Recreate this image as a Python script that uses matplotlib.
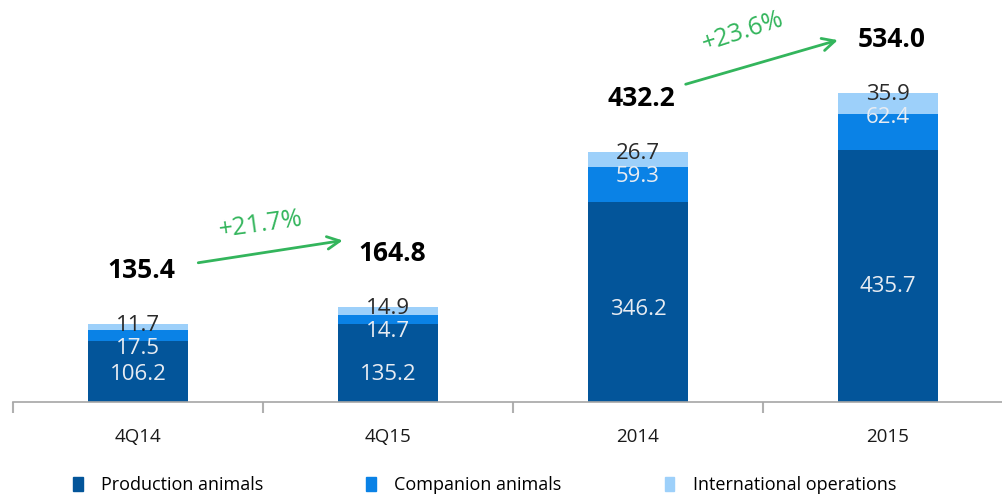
import matplotlib
matplotlib.use('Agg')
import matplotlib.pyplot as plt
from matplotlib.patches import Patch
import numpy as np

plt.rcParams['font.family'] = ['Open Sans', 'DejaVu Sans']

categories = ['4Q14', '4Q15', '2014', '2015']
production = [106.2, 135.2, 346.2, 435.7]
companion = [17.5, 14.7, 59.3, 62.4]
international = [11.7, 14.9, 26.7, 35.9]
totals = [135.4, 164.8, 432.2, 534.0]
growth_labels = ['+21.7%', '+23.6%']
series_names = ['Production animals', 'Companion animals', 'International operations']

DARK = '#03559A'
MID = '#0A82E6'
LIGHT = '#9DD0FA'
GREEN = '#33B55C'

W, H = 1003, 497
fig = plt.figure(figsize=(W / 100, H / 100), dpi=100)
ax = fig.add_axes([13 / W, 95 / H, 990 / W, 402 / H])

x = np.arange(len(categories))
prod = np.array(production)
comp = np.array(companion)
intl = np.array(international)

ax.bar(x, prod, width=0.4, color=DARK)
ax.bar(x, comp, width=0.4, bottom=prod, color=MID)
ax.bar(x, intl, width=0.4, bottom=prod + comp, color=LIGHT)

ax.set_xlim(-0.5, 3.46)
ax.set_ylim(0, 695)

# segment labels
for i in range(len(categories)):
    top = prod[i] + comp[i] + intl[i]
    prod_y = 48 if prod[i] < 200 else prod[i] * 0.46
    ax.text(x[i], prod_y, f'{prod[i]:.1f}', ha='center', va='center',
            fontsize=16, color='#E8ECF2')
    ax.text(x[i], top - 43, f'{comp[i]:.1f}', ha='center', va='center',
            fontsize=16, color='#E8ECF2')
    ax.text(x[i], top - 3, f'{intl[i]:.1f}', ha='center', va='center',
            fontsize=16, color='#2A2A2A')
    ax.text(x[i] + 0.015, totals[i] + 92, f'{totals[i]:.1f}', ha='center',
            va='center', fontsize=19, fontweight='bold', color='black')

# growth arrows
arrow_kw = dict(arrowstyle='->,head_length=0.9,head_width=0.45', color=GREEN, lw=2)
ax.annotate('', xy=(0.83, 280), xytext=(0.23, 240), arrowprops=arrow_kw)
ax.text(0.49, 307, growth_labels[0], ha='center', va='center', fontsize=18,
        color=GREEN, rotation=8)
ax.annotate('', xy=(2.81, 627), xytext=(2.18, 548), arrowprops=arrow_kw)
ax.text(2.42, 640, growth_labels[1], ha='center', va='center', fontsize=18,
        color=GREEN, rotation=18)

# axes styling
for s in ['top', 'right', 'left']:
    ax.spines[s].set_visible(False)
ax.spines['bottom'].set_color('#A6A6A6')
ax.spines['bottom'].set_linewidth(1.2)
ax.set_yticks([])
ax.set_xticks(x)
ax.set_xticklabels(categories, fontsize=13.5, color='#1A1A1A')
ax.tick_params(axis='x', which='major', length=0, pad=19)
ax.set_xticks(np.arange(-0.5, 3.5, 1.0), minor=True)
ax.tick_params(axis='x', which='minor', length=8, width=1.5, color='#B0B0B0')

handles = [Patch(color=c) for c in (DARK, MID, LIGHT)]
fig.legend(handles, series_names, loc='center left', ncol=3,
           bbox_to_anchor=(66 / W, 1 - 485 / H), frameon=False, fontsize=13,
           handlelength=0.55, handleheight=0.8, handletextpad=1.0,
           columnspacing=5.7, borderaxespad=0)

fig.savefig('out.png', dpi=100)
